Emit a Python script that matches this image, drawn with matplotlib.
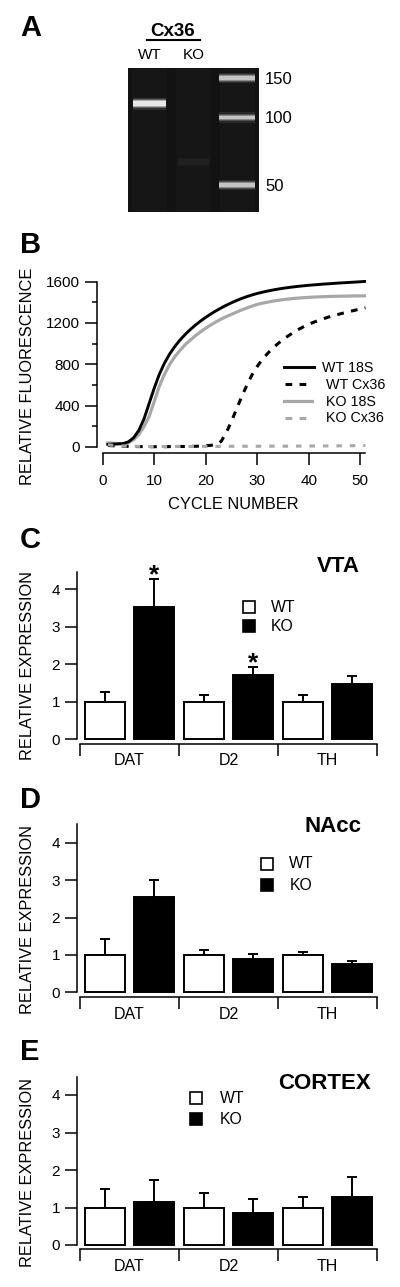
import numpy as np
import matplotlib
matplotlib.use('Agg')
import matplotlib.pyplot as plt
from matplotlib.lines import Line2D
from matplotlib.ticker import NullLocator, FixedLocator

plt.rcParams['font.family'] = ['Liberation Sans', 'DejaVu Sans']

# ---------------- DATA ----------------
gel_lane_labels = ['WT', 'KO']
gel_ladder_bp = [150, 100, 50]
gel_wt_band_bp = [115]
gel_ko_band_bp = [63]

cycles = np.arange(1, 52)
wt_18s = [25, 28, 30, 33, 50, 90, 160, 270, 420, 570,
          705, 813, 901, 973, 1035, 1089, 1137, 1180, 1219, 1255,
          1288, 1318, 1346, 1372, 1396, 1418, 1438, 1456, 1472, 1486,
          1498, 1509, 1519, 1528, 1536, 1543, 1549, 1555, 1560, 1565,
          1569, 1573, 1577, 1580, 1584, 1587, 1590, 1593, 1596, 1599,
          1603]
ko_18s = [40, 36, 33, 33, 42, 70, 120, 195, 295, 440,
          590, 705, 800, 875, 935, 990, 1035, 1077, 1115, 1150,
          1182, 1211, 1238, 1262, 1284, 1306, 1327, 1346, 1364, 1380,
          1392, 1402, 1411, 1419, 1426, 1432, 1437, 1441, 1445, 1448,
          1451, 1453, 1455, 1457, 1458, 1459, 1460, 1461, 1462, 1462,
          1463]
wt_cx36 = [15, 12, 10, 8, 6, 5, 4, 4, 3, 3,
           3, 3, 4, 4, 5, 5, 6, 7, 9, 12,
           16, 25, 55, 140, 250, 370, 490, 600, 700, 780,
           850, 905, 955, 1000, 1040, 1075, 1108, 1138, 1164, 1188,
           1208, 1227, 1244, 1260, 1274, 1287, 1300, 1312, 1324, 1336,
           1348]
ko_cx36 = [22, 16, 12, 10, 8, 7, 6, 5, 5, 5,
           5, 5, 5, 5, 5, 5, 5, 6, 6, 6,
           6, 6, 6, 6, 7, 7, 7, 7, 7, 7,
           8, 8, 8, 8, 8, 8, 9, 9, 9, 9,
           10, 10, 10, 11, 11, 11, 12, 12, 13, 13,
           14]
curve_labels = ['WT 18S', 'WT Cx36', 'KO 18S', 'KO Cx36']

genes = ['DAT', 'D2', 'TH']
vta_wt = [1.0, 1.0, 1.0]
vta_wt_err = [0.25, 0.19, 0.19]
vta_ko = [3.54, 1.71, 1.47]
vta_ko_err = [0.73, 0.22, 0.22]
vta_sig = [True, True, False]

nacc_wt = [1.0, 1.0, 1.0]
nacc_wt_err = [0.43, 0.13, 0.07]
nacc_ko = [2.56, 0.88, 0.76]
nacc_ko_err = [0.44, 0.14, 0.09]
nacc_sig = [False, False, False]

ctx_wt = [1.0, 1.0, 1.0]
ctx_wt_err = [0.49, 0.40, 0.28]
ctx_ko = [1.16, 0.86, 1.29]
ctx_ko_err = [0.57, 0.38, 0.53]
ctx_sig = [False, False, False]

# ---------------- FIGURE ----------------
W, H = 400, 1287
fig = plt.figure(figsize=(W / 100, H / 100), dpi=100)


def fx(x):
    return x / W


def fy(y):
    return 1 - y / H


def add_axes_px(l, t, r, b):
    return fig.add_axes([fx(l), fy(b), (r - l) / W, (b - t) / H])


def ftext(x, y, s, **kw):
    fig.text(fx(x), fy(y), s, **kw)


GREY = '#a8a8a8'
SPINE_LW = 1.1

# panel letters
for letter, (x, yb) in zip('ABCDE', [(31, 36.5), (31, 253), (30, 548), (30, 807.5), (30, 1060)]):
    ftext(x, yb, letter, ha='center', va='baseline', fontsize=21, fontweight='bold')

# ---------------- A: gel ----------------
axg = add_axes_px(128, 68, 259, 212)
axg.set_facecolor('#121212')
axg.set_yscale('log')
axg.set_ylim(37.9, 166.2)
axg.set_xlim(-0.5, 2.5)
for s in axg.spines.values():
    s.set_visible(False)


def gel_band(ax, lane, bp, width, color, halfpx, strength):
    k = 1 / 97.4
    for hp, a in [(halfpx + 3.5, 0.12), (halfpx + 2.0, 0.25), (halfpx + 1.0, 0.5), (halfpx, 0.9)]:
        f = np.exp(hp * k)
        ax.bar(lane, bp * f - bp / f, bottom=bp / f, width=width, color=color,
               alpha=a * strength, linewidth=0)


# very faint lane tint
axg.bar([0, 1, 2], [166.2 - 37.9] * 3, bottom=37.9, width=0.8, color='#161616', linewidth=0)
for bp in gel_wt_band_bp:
    gel_band(axg, 0, bp, 0.76, '#f0f0f0', 2.5, 1.0)
for bp in gel_ko_band_bp:
    gel_band(axg, 1, bp, 0.7, '#888888', 3.0, 0.07)
for bp in gel_ladder_bp:
    gel_band(axg, 2, bp, 0.82, '#d8d8d8', 1.6, 0.85)

axg.xaxis.tick_top()
axg.set_xticks([0, 1])
axg.set_xticklabels(gel_lane_labels, fontsize=11)
axg.tick_params(axis='x', length=0, pad=4)
axg.yaxis.tick_right()
axg.yaxis.set_major_locator(FixedLocator(gel_ladder_bp))
axg.yaxis.set_minor_locator(NullLocator())
axg.set_yticklabels([str(v) for v in gel_ladder_bp], fontsize=12)
axg.tick_params(axis='y', length=0, pad=4.5)
ftext(172.8, 36, 'Cx36', ha='center', va='baseline', fontsize=13.5, fontweight='bold')
fig.add_artist(Line2D([fx(146.5), fx(199.5)], [fy(39.5), fy(39.5)], color='black', lw=1.5))

# ---------------- B: qPCR curves ----------------
axb = add_axes_px(96.7, 279.6, 365.7, 453.2)
axb.set_xlim(-1.17, 51.05)
axb.set_ylim(-60, 1620)
axb.plot(cycles, ko_18s, color=GREY, lw=2.3)
axb.plot(cycles, wt_18s, color='black', lw=2.1)
axb.plot(cycles, wt_cx36, color='black', lw=2.2, linestyle=(0, (2.2, 2.4)))
axb.plot(cycles, ko_cx36, color=GREY, lw=2.2, linestyle=(0, (1.8, 2.6)))
for s in ['top', 'right']:
    axb.spines[s].set_visible(False)
axb.spines['left'].set_bounds(0, 1600)
axb.spines['bottom'].set_bounds(0, 51)
for s in ['left', 'bottom']:
    axb.spines[s].set_linewidth(SPINE_LW)
axb.set_yticks([0, 400, 800, 1200, 1600])
axb.set_yticks([200, 600, 1000, 1400], minor=True)
axb.set_xticks([0, 10, 20, 30, 40, 50])
axb.tick_params(axis='both', which='major', length=8.6, width=SPINE_LW, labelsize=11)
axb.tick_params(axis='y', which='minor', length=3.6, width=SPINE_LW)
axb.tick_params(axis='y', which='major', pad=3.5)
axb.tick_params(axis='x', which='major', pad=6.5)
ftext(27.5, 376.7, 'RELATIVE FLUORESCENCE', rotation=90, ha='center', va='center', fontsize=11.8)
ftext(233, 504, 'CYCLE NUMBER', ha='center', va='center', fontsize=11.8)

# legend for B
leg_rows = [367.3, 384.3, 401.0, 417.5]
leg_styles = [dict(color='black', lw=2.1, ls='-'),
              dict(color='black', lw=2.2, ls=(0, (2.2, 2.4))),
              dict(color=GREY, lw=2.3, ls='-'),
              dict(color=GREY, lw=2.2, ls=(0, (2.2, 2.4)))]
leg_x0 = [284.3, 285, 284.3, 285]
leg_x1 = [314.3, 310, 311.7, 307]
leg_tx = [321.5, 326.5, 326.0, 326.0]
for lab, yy, st, x0, x1, tx in zip(curve_labels, leg_rows, leg_styles, leg_x0, leg_x1, leg_tx):
    fig.add_artist(Line2D([fx(x0), fx(x1)], [fy(yy), fy(yy)], **st))
    ftext(tx, yy + 4.7, lab, ha='left', va='baseline', fontsize=10.3)


# ---------------- C, D, E: bar charts ----------------
def bar_panel(zero_px, unit_px, spine_px, top_val, wt, wt_err, ko, ko_err, sig,
              title, title_xy, leg_sq_x, leg_tx, leg_rows, ylab_y):
    left_px, right_px = 77.0, 377.0
    x0_px, xunit = 80.0, 99.0
    xmin = -(x0_px - left_px) / xunit
    xmax = (right_px - x0_px) / xunit
    ymin = -(spine_px - zero_px) / unit_px
    top_px = zero_px - top_val * unit_px
    ax = add_axes_px(left_px, top_px, right_px, spine_px)
    ax.set_xlim(xmin, xmax)
    ax.set_ylim(ymin, top_val)
    x = np.arange(len(genes))
    ax.bar(x + 0.25, wt, width=0.4, color='white', edgecolor='black', linewidth=1.4, zorder=2)
    ax.bar(x + 0.75, ko, width=0.4, color='black', edgecolor='black', linewidth=1.4, zorder=2)
    ax.errorbar(x + 0.25, wt, yerr=[np.zeros(len(wt)), wt_err], fmt='none', ecolor='black',
                elinewidth=1.4, capsize=3.3, capthick=1.4, zorder=1)
    ax.errorbar(x + 0.75, ko, yerr=[np.zeros(len(ko)), ko_err], fmt='none', ecolor='black',
                elinewidth=1.4, capsize=3.3, capthick=1.4, zorder=1)
    for xi, v, e, s in zip(x, ko, ko_err, sig):
        if s:
            ax.annotate('*', xy=(xi + 0.75, v + e), xytext=(0, -2.5), textcoords='offset points',
                        ha='center', va='baseline', fontsize=19, fontweight='bold')
    for s in ['top', 'right']:
        ax.spines[s].set_visible(False)
    ax.spines['left'].set_bounds(0, top_val)
    ax.spines['bottom'].set_bounds(0, 3)
    for s in ['left', 'bottom']:
        ax.spines[s].set_linewidth(SPINE_LW)
    ax.set_yticks([0, 1, 2, 3, 4])
    ax.set_xticks([0, 1, 2, 3])
    ax.set_xticklabels([])
    ax.set_xticks([0.5, 1.5, 2.5], minor=True)
    ax.set_xticklabels(genes, minor=True, fontsize=11.5)
    ax.tick_params(axis='both', which='major', length=8.6, width=SPINE_LW)
    ax.tick_params(axis='y', which='major', labelsize=11, pad=3.5)
    ax.tick_params(axis='x', which='minor', length=0, pad=7)
    ftext(title_xy[0], title_xy[1], title, ha='center', va='baseline', fontsize=16, fontweight='bold')
    for lab, yy, fc in zip(['WT', 'KO'], leg_rows, ['white', 'black']):
        fig.add_artist(Line2D([fx(leg_sq_x)], [fy(yy)], marker='s', markersize=8.5,
                              markerfacecolor=fc, markeredgecolor='black', markeredgewidth=1.2,
                              linestyle='none'))
        ftext(leg_tx, yy + 4.5, lab, ha='left', va='baseline', fontsize=11.3)
    ftext(27.5, ylab_y, 'RELATIVE EXPRESSION', rotation=90, ha='center', va='center', fontsize=11.8)
    return ax


bar_panel(739.3, 37.5, 743.5, 4.45, vta_wt, vta_wt_err, vta_ko, vta_ko_err, vta_sig,
          'VTA', (338, 571.7), 249.3, 270.7, [607.3, 626.3], 665.7)
bar_panel(992.3, 37.4, 997.3, 4.5, nacc_wt, nacc_wt_err, nacc_ko, nacc_ko_err, nacc_sig,
          'NAcc', (333.5, 831.7), 267.0, 289.3, [864.0, 885.0], 919.0)
bar_panel(1245.0, 37.5, 1249.3, 4.49, ctx_wt, ctx_wt_err, ctx_ko, ctx_ko_err, ctx_sig,
          'CORTEX', (324.8, 1089.3), 196.0, 220.0, [1098.3, 1119.0], 1172.5)

fig.savefig('out.png', dpi=100, facecolor='white')
